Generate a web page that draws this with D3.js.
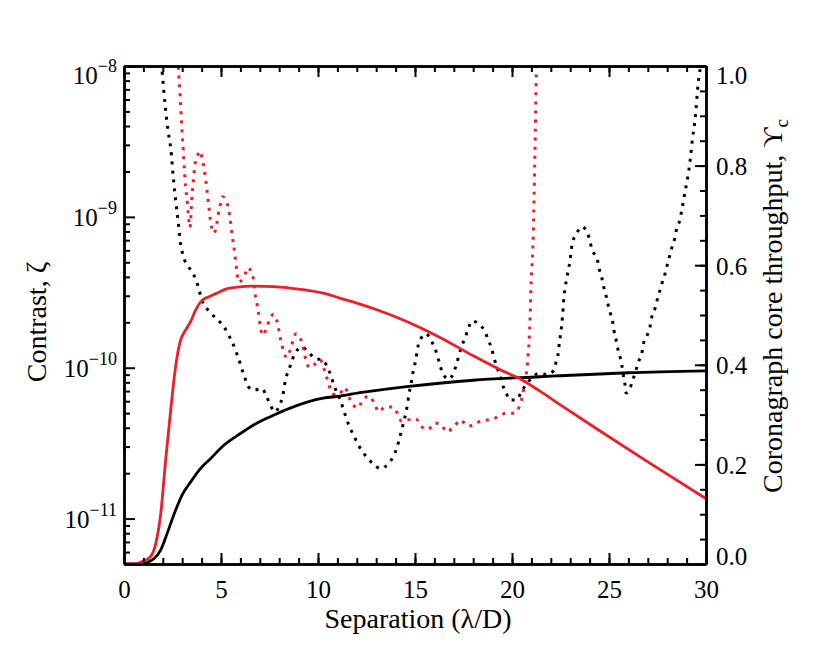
<!DOCTYPE html>
<html>
<head>
<meta charset="utf-8">
<script src="https://cdn.jsdelivr.net/npm/d3@7"></script>
<style>
  body { margin: 0; background: #fff; }
  svg text { font-family: "Liberation Serif", "Times New Roman", serif; fill: #000; }
</style>
</head>
<body>
<div id="grafico"></div>
<script>
// ticks
const xTicks = [0, 5, 10, 15, 20, 25, 30];
const contrastDecades = [1e-11, 1e-10, 1e-9, 1e-8];
const contrastExpoentes = [-11, -10, -9, -8];
const throughputTicks = [0.0, 0.2, 0.4, 0.6, 0.8, 1.0];

// throughput curves (right axis): [separation, throughput]
const throughputPreto = [[0,0],[0.5,0],[1.03,0.001],[1.3,0.005],[1.55,0.011],[1.89,0.028],[2.23,0.062],[2.58,0.10],[3.0,0.139],[3.44,0.165],[3.95,0.192],[4.47,0.212],[5.13,0.238],[6.0,0.262],[6.86,0.283],[7.73,0.299],[8.56,0.313],[10.27,0.333],[11.13,0.337],[12.16,0.344],[14.57,0.356],[18.0,0.369],[21.44,0.376],[22.47,0.378],[26,0.384],[30,0.388]];
const throughputVermelho = [[0,0],[0.5,0],[0.94,0.005],[1.37,0.015],[1.63,0.04],[1.89,0.10],[2.15,0.21],[2.41,0.31],[2.66,0.396],[2.89,0.446],[3.18,0.47],[3.44,0.487],[3.69,0.51],[4.04,0.53],[4.47,0.538],[4.81,0.544],[5.24,0.552],[5.84,0.556],[6.7,0.558],[7.73,0.557],[8.56,0.554],[10.27,0.544],[11.13,0.534],[12.85,0.513],[14.57,0.487],[16.29,0.455],[18.0,0.418],[19.5,0.388],[20.41,0.372],[21.44,0.347],[22.47,0.32],[24.5,0.268],[27,0.205],[30,0.131]];

// contrast curves (left axis, log): [separation, contrast]
const contrastePreto = [[1.85,1.2e-8],[1.94,1.0e-8],[1.99,8.5e-9],[2.11,5.65e-9],[2.28,3.66e-9],[2.42,2.77e-9],[2.54,1.84e-9],[2.68,1.23e-9],[2.80,9.1e-10],[2.89,7.0e-10],[2.97,6.1e-10],[3.09,5.3e-10],[3.31,4.7e-10],[3.54,4.25e-10],[3.75,3.7e-10],[4.01,2.83e-10],[4.50,2.29e-10],[4.85,2.06e-10],[5.15,1.88e-10],[5.36,1.67e-10],[5.58,1.48e-10],[5.76,1.29e-10],[5.93,1.13e-10],[6.05,1.0e-10],[6.22,8.7e-11],[6.36,7.6e-11],[6.70,7.1e-11],[7.10,7.3e-11],[7.36,6.4e-11],[7.56,5.6e-11],[7.78,5.1e-11],[8.01,5.6e-11],[8.18,6.5e-11],[8.34,8.5e-11],[8.49,9.6e-11],[8.64,1.1e-10],[8.83,1.25e-10],[9.16,1.37e-10],[9.50,1.27e-10],[9.85,1.15e-10],[10.19,1.13e-10],[10.62,9.2e-11],[10.79,7.9e-11],[10.96,6.9e-11],[11.13,6.2e-11],[11.30,5.35e-11],[11.44,4.7e-11],[11.61,4.1e-11],[11.82,3.6e-11],[12.03,3.16e-11],[12.25,2.83e-11],[12.54,2.53e-11],[12.89,2.28e-11],[13.23,2.14e-11],[13.62,2.31e-11],[13.88,2.58e-11],[14.06,2.93e-11],[14.19,3.35e-11],[14.31,3.85e-11],[14.43,4.43e-11],[14.54,5.1e-11],[14.62,5.8e-11],[14.69,6.7e-11],[14.78,7.6e-11],[14.86,8.8e-11],[14.96,1.01e-10],[15.05,1.15e-10],[15.12,1.32e-10],[15.26,1.52e-10],[15.57,1.68e-10],[15.82,1.52e-10],[16.03,1.34e-10],[16.17,1.18e-10],[16.29,1.04e-10],[16.46,9.0e-11],[16.75,8.4e-11],[17.01,9.4e-11],[17.15,1.07e-10],[17.28,1.23e-10],[17.41,1.39e-10],[17.58,1.58e-10],[17.75,1.82e-10],[17.92,2.04e-10],[18.31,1.94e-10],[18.61,1.73e-10],[18.78,1.52e-10],[18.95,1.34e-10],[19.07,1.17e-10],[19.21,1.02e-10],[19.38,8.9e-11],[19.50,7.8e-11],[19.68,6.9e-11],[19.90,6.1e-11],[20.21,6.1e-11],[20.46,6.8e-11],[20.67,7.6e-11],[21.02,8.5e-11],[21.39,9.2e-11],[21.79,9.0e-11],[22.16,9.6e-11],[22.27,1.09e-10],[22.39,1.27e-10],[22.44,1.46e-10],[22.51,1.68e-10],[22.56,1.91e-10],[22.61,2.23e-10],[22.68,2.95e-10],[22.73,3.35e-10],[22.82,3.9e-10],[22.90,4.43e-10],[22.99,5.1e-10],[23.04,5.8e-10],[23.11,6.7e-10],[23.30,7.6e-10],[23.59,8.6e-10],[23.90,7.8e-10],[24.02,6.8e-10],[24.16,5.95e-10],[24.40,5.2e-10],[24.48,4.6e-10],[24.62,4.0e-10],[24.71,3.5e-10],[24.83,3.07e-10],[24.93,2.69e-10],[25.05,2.34e-10],[25.19,2.01e-10],[25.26,1.75e-10],[25.36,1.54e-10],[25.45,1.34e-10],[25.57,1.18e-10],[25.66,1.04e-10],[25.74,8.9e-11],[25.82,7.8e-11],[25.88,6.8e-11],[26.08,7.3e-11],[26.22,8.25e-11],[26.38,9.5e-11],[26.51,1.09e-10],[26.69,1.24e-10],[26.77,1.43e-10],[26.97,1.64e-10],[27.11,1.86e-10],[27.20,2.15e-10],[27.37,2.47e-10],[27.49,2.83e-10],[27.63,3.27e-10],[27.75,3.7e-10],[27.89,4.2e-10],[28.01,4.85e-10],[28.14,5.6e-10],[28.26,6.4e-10],[28.40,7.3e-10],[28.49,8.4e-10],[28.66,9.6e-10],[28.75,1.11e-9],[28.83,1.26e-9],[28.92,1.47e-9],[29.01,1.68e-9],[29.09,1.94e-9],[29.21,2.53e-9],[29.31,3.37e-9],[29.38,3.86e-9],[29.48,5.05e-9],[29.55,6.6e-9],[29.60,7.7e-9],[29.66,8.85e-9],[29.72,1.0e-8],[29.8,1.3e-8]];
const contrasteVermelho = [[2.75,1.5e-8],[2.80,1.0e-8],[2.89,6.4e-9],[2.99,3.66e-9],[3.05,2.8e-9],[3.11,2.1e-9],[3.17,1.6e-9],[3.25,1.3e-9],[3.31,1.05e-9],[3.40,8.5e-10],[3.49,1.29e-9],[3.57,1.69e-9],[3.66,2.24e-9],[3.80,2.57e-9],[3.92,2.73e-9],[4.04,2.38e-9],[4.14,2.06e-9],[4.26,1.57e-9],[4.37,1.18e-9],[4.48,9.0e-10],[4.64,7.8e-10],[4.78,9.0e-10],[4.86,1.04e-9],[4.95,1.18e-9],[5.09,1.36e-9],[5.24,1.29e-9],[5.38,1.14e-9],[5.46,9.9e-10],[5.58,7.5e-10],[5.71,5.7e-10],[5.82,4.3e-10],[5.89,3.7e-10],[6.19,4.0e-10],[6.38,4.6e-10],[6.63,4.1e-10],[6.75,3.13e-10],[6.92,2.38e-10],[7.05,1.8e-10],[7.15,1.64e-10],[7.36,1.86e-10],[7.53,2.12e-10],[7.70,2.26e-10],[7.90,2.0e-10],[8.08,1.52e-10],[8.39,1.17e-10],[8.56,1.3e-10],[8.87,1.68e-10],[9.16,1.48e-10],[9.38,1.13e-10],[9.55,1.0e-10],[9.79,1.04e-10],[10.10,1.13e-10],[10.45,8.6e-11],[10.76,6.7e-11],[11.05,6.6e-11],[11.39,7.4e-11],[11.61,6.3e-11],[12.05,5.4e-11],[12.30,6.1e-11],[12.64,6.5e-11],[12.90,5.8e-11],[13.14,5.1e-11],[13.45,5.5e-11],[13.85,5.5e-11],[14.09,5.0e-11],[14.31,4.4e-11],[14.62,4.5e-11],[15.04,4.6e-11],[15.31,4.1e-11],[15.69,3.9e-11],[15.99,4.3e-11],[16.38,4.15e-11],[16.63,3.75e-11],[17.03,4.1e-11],[17.36,4.5e-11],[17.70,4.1e-11],[18.09,4.2e-11],[18.49,4.5e-11],[18.90,4.5e-11],[19.33,4.8e-11],[19.73,5.0e-11],[20.15,5.0e-11],[20.41,5.7e-11],[20.55,6.6e-11],[20.62,7.5e-11],[20.72,8.7e-11],[20.81,1.13e-10],[20.88,1.5e-10],[20.94,2.3e-10],[20.98,3.5e-10],[21.02,4.5e-10],[21.07,6.0e-10],[21.10,7.9e-10],[21.13,1.2e-9],[21.2,3.5e-9],[21.26,1.0e-8],[21.3,1.5e-8]];

const vermelho = "#ec1f27";
const fonte = "'Liberation Serif', 'Times New Roman', serif";
const largura = 830, altura = 664;
const margem = {top: 66, right: 124, bottom: 100, left: 124};

const svg = d3.select("#grafico").append("svg")
    .attr("width", largura)
    .attr("height", altura);

const eixoX = d3.scaleLinear().domain([0, 30]).range([margem.left, largura - margem.right]);
const eixoYLog = d3.scaleLog().domain([5e-12, 1e-8]).range([altura - margem.bottom, margem.top]);
const eixoYDir = d3.scaleLinear().domain([0, 1]).range([altura - margem.bottom, margem.top]);

// clip to plot area
svg.append("clipPath").attr("id", "area")
  .append("rect")
    .attr("x", margem.left).attr("y", margem.top)
    .attr("width", largura - margem.left - margem.right)
    .attr("height", altura - margem.top - margem.bottom);

const linhaContraste = d3.line().x(d => eixoX(d[0])).y(d => eixoYLog(d[1])).curve(d3.curveMonotoneX);
const linhaThroughput = d3.line().x(d => eixoX(d[0])).y(d => eixoYDir(d[1])).curve(d3.curveMonotoneX);

const curvas = svg.append("g").attr("clip-path", "url(#area)").attr("fill", "none");

curvas.append("path").attr("d", linhaContraste(contrastePreto))
    .attr("stroke", "#000").attr("stroke-width", 3).attr("stroke-dasharray", "3,6");
curvas.append("path").attr("d", linhaContraste(contrasteVermelho))
    .attr("stroke", vermelho).attr("stroke-width", 3).attr("stroke-dasharray", "3,6");
curvas.append("path").attr("d", linhaThroughput(throughputPreto))
    .attr("stroke", "#000").attr("stroke-width", 2.8);
curvas.append("path").attr("d", linhaThroughput(throughputVermelho))
    .attr("stroke", vermelho).attr("stroke-width", 2.8);

// axes
const base = altura - margem.bottom, topo = margem.top;
const esq = margem.left, dir = largura - margem.right;
const menoresX = d3.range(0, 31, 1);
const menoresLog = [];
[-12, -11, -10, -9].forEach(e => d3.range(2, 10).forEach(m => {
  const v = m * Math.pow(10, e);
  if (v >= 5e-12 && v < 1e-8) menoresLog.push(v);
}));
const menoresDir = d3.range(0, 1.0001, 0.05);

function estilo(g) {
  g.attr("font-family", fonte).attr("font-size", 25);
  g.selectAll("path, line").attr("stroke", "#000").attr("stroke-width", 2);
  g.select(".domain").attr("stroke-width", 2.5);
  g.selectAll("text").attr("font-family", fonte).attr("font-size", 25).attr("fill", "#000");
}

// bottom
svg.append("g").attr("transform", `translate(0,${base})`)
  .call(d3.axisBottom(eixoX).tickValues(menoresX).tickSize(-6).tickSizeOuter(0).tickFormat(""))
  .call(estilo);
svg.append("g").attr("transform", `translate(0,${base})`)
  .call(d3.axisBottom(eixoX).tickValues(xTicks).tickSize(-11).tickSizeOuter(0).tickPadding(16).tickFormat(d3.format("d")))
  .call(estilo);
// top
svg.append("g").attr("transform", `translate(0,${topo})`)
  .call(d3.axisTop(eixoX).tickValues(menoresX).tickSize(-6).tickSizeOuter(0).tickFormat(""))
  .call(estilo);
svg.append("g").attr("transform", `translate(0,${topo})`)
  .call(d3.axisTop(eixoX).tickValues(xTicks).tickSize(-11).tickSizeOuter(0).tickFormat(""))
  .call(estilo);
// left (log)
svg.append("g").attr("transform", `translate(${esq},0)`)
  .call(d3.axisLeft(eixoYLog).tickValues(menoresLog).tickSize(-6).tickSizeOuter(0).tickFormat(""))
  .call(estilo);
const eixoEsq = svg.append("g").attr("transform", `translate(${esq},0)`)
  .call(d3.axisLeft(eixoYLog).tickValues(contrastDecades).tickSize(-11).tickSizeOuter(0).tickFormat(""))
  .call(estilo);
eixoEsq.selectAll(".tick").each(function(d, i) {
  const t = d3.select(this).append("text")
      .attr("x", -7).attr("y", d === 1e-8 ? 17 : 9)
      .attr("text-anchor", "end").attr("font-family", fonte).attr("font-size", 25).attr("fill", "#000");
  t.append("tspan").text("10");
  t.append("tspan").attr("dy", -12).attr("font-size", 18).text("\u2212" + Math.abs(contrastExpoentes[i]));
});
// right (linear)
svg.append("g").attr("transform", `translate(${dir},0)`)
  .call(d3.axisRight(eixoYDir).tickValues(menoresDir).tickSize(-6).tickSizeOuter(0).tickFormat(""))
  .call(estilo);
svg.append("g").attr("transform", `translate(${dir},0)`)
  .call(d3.axisRight(eixoYDir).tickValues(throughputTicks).tickSize(-11).tickSizeOuter(0).tickPadding(10).tickFormat(d3.format(".1f")))
  .call(estilo)
  .selectAll("text")
    .attr("dy", null)
    .attr("y", d => d === 1 ? 17 : (d === 0 ? 0 : 9));

// axis titles
svg.append("text")
    .attr("x", 418).attr("y", 628)
    .attr("text-anchor", "middle").attr("font-family", fonte).attr("font-size", 28)
    .text("Separation (\u03bb/D)");
svg.append("text")
    .attr("transform", "translate(46,322) rotate(-90)")
    .attr("text-anchor", "middle").attr("font-family", fonte).attr("font-size", 28)
    .text("Contrast, \u03b6");
const tituloDir = svg.append("text")
    .attr("transform", "translate(782,306) rotate(-90)")
    .attr("text-anchor", "middle").attr("font-family", fonte).attr("font-size", 28);
tituloDir.append("tspan").text("Coronagraph core throughput, \u03d2");
tituloDir.append("tspan").attr("font-size", 19).attr("dy", 6).text("c");
</script>
</body>
</html>
